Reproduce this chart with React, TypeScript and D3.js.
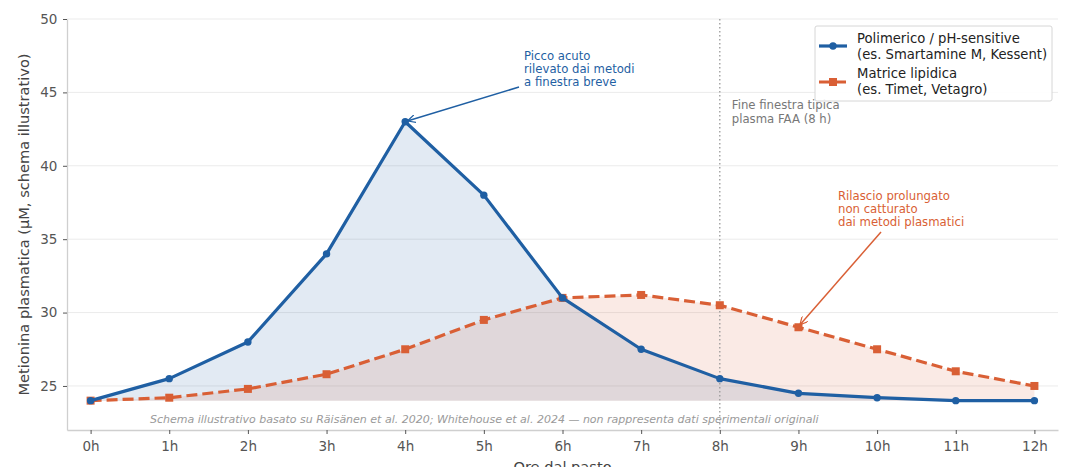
import React, { useEffect, useRef } from "react";
import * as d3 from "d3";

// ore dal pasto
const hours = [0, 1, 2, 3, 4, 5, 6, 7, 8, 9, 10, 11, 12];
const hourLabels = hours.map((h) => `${h}h`);
// Polimerico / pH-sensitive
const polymeric = [24, 25.5, 28, 34, 43, 38, 31, 27.5, 25.5, 24.5, 24.2, 24, 24];
// Matrice lipidica
const lipid = [24, 24.2, 24.8, 25.8, 27.5, 29.5, 31, 31.2, 30.5, 29, 27.5, 26, 25];
const yTicks = [25, 30, 35, 40, 45, 50];
const baseline = 24;

const width = 1080;
const height = 467;
const margin = { top: 19, right: 22, bottom: 37, left: 67 };

const blue = "#1f5fa3";
const orange = "#d95f35";
const font = "DejaVu Sans, sans-serif";

export default function App() {
  const svgRef = useRef<SVGSVGElement>(null);

  useEffect(() => {
    const svg = d3.select(svgRef.current);
    svg.selectAll("*").remove();

    const x = d3.scaleLinear().domain([-0.3, 12.3]).range([margin.left, width - margin.right]);
    const y = d3.scaleLinear().domain([22, 50]).range([height - margin.bottom, margin.top]);

    const defs = svg.append("defs");
    const mk = (id: string, c: string) =>
      defs.append("marker")
        .attr("id", id)
        .attr("viewBox", "0 0 10 10")
        .attr("refX", 9).attr("refY", 5)
        .attr("markerWidth", 8).attr("markerHeight", 8)
        .attr("markerUnits", "userSpaceOnUse")
        .attr("orient", "auto")
        .append("path")
        .attr("d", "M0,0 L10,5 L0,10")
        .attr("fill", "none")
        .attr("stroke", c)
        .attr("stroke-width", 1.5);
    mk("arrBlue", blue);
    mk("arrOrange", orange);

    // grid
    svg.append("g").selectAll("line")
      .data(yTicks)
      .join("line")
      .attr("x1", margin.left).attr("x2", width - margin.right)
      .attr("y1", (d) => y(d)).attr("y2", (d) => y(d))
      .attr("stroke", "#ebebeb").attr("stroke-width", 1);

    // fills
    const area = (vals: number[]) =>
      d3.area<number>()
        .x((_, i) => x(hours[i]))
        .y0(y(baseline))
        .y1((d) => y(d))(vals);
    svg.append("path").attr("d", area(polymeric)).attr("fill", blue).attr("fill-opacity", 0.13);
    svg.append("path").attr("d", area(lipid)).attr("fill", orange).attr("fill-opacity", 0.13);

    // vertical line at 8h
    svg.append("line")
      .attr("x1", x(8)).attr("x2", x(8))
      .attr("y1", margin.top).attr("y2", height - margin.bottom)
      .attr("stroke", "#999").attr("stroke-width", 1.3)
      .attr("stroke-dasharray", "1.5,2.5");

    // axes
    const axisColor = "#cfcfcf";
    const xAxis = svg.append("g")
      .attr("transform", `translate(0,${height - margin.bottom})`)
      .call(d3.axisBottom(x).tickValues(hours).tickFormat((_, i) => hourLabels[i]).tickSize(4).tickSizeOuter(0));
    const yAxis = svg.append("g")
      .attr("transform", `translate(${margin.left},0)`)
      .call(d3.axisLeft(y).tickValues(yTicks).tickSize(4).tickSizeOuter(0));
    [xAxis, yAxis].forEach((g) => {
      g.select(".domain").attr("stroke", axisColor).attr("stroke-width", 1.3);
      g.selectAll(".tick line").attr("stroke", "#555");
      g.selectAll(".tick text").attr("fill", "#555").attr("font-size", 13.5).attr("font-family", font);
    });
    xAxis.selectAll(".tick text").attr("dy", "1.05em");
    yAxis.selectAll(".tick text").attr("dx", "-0.2em");

    // lines
    const line = d3.line<number>().x((_, i) => x(hours[i])).y((d) => y(d));
    svg.append("path").attr("d", line(lipid)).attr("fill", "none")
      .attr("stroke", orange).attr("stroke-width", 3.2).attr("stroke-dasharray", "11,5");
    svg.append("g").selectAll("rect").data(lipid).join("rect")
      .attr("x", (_, i) => x(hours[i]) - 4).attr("y", (d) => y(d) - 4)
      .attr("width", 8).attr("height", 8).attr("fill", orange);

    svg.append("path").attr("d", line(polymeric)).attr("fill", "none")
      .attr("stroke", blue).attr("stroke-width", 3.2).attr("stroke-linejoin", "round");
    svg.append("g").selectAll("circle").data(polymeric).join("circle")
      .attr("cx", (_, i) => x(hours[i])).attr("cy", (d) => y(d))
      .attr("r", 3.7).attr("fill", blue);

    // text helper
    const multi = (lines: string[], tx: number, ty: number, color: string, size: number, lh: number) => {
      const t = svg.append("text").attr("font-family", font).attr("font-size", size).attr("fill", color);
      lines.forEach((l, i) => t.append("tspan").attr("x", tx).attr("y", ty + i * lh).text(l));
      return t;
    };

    multi(["Fine finestra tipica", "plasma FAA (8 h)"], x(8) + 12, 109, "#777", 11.7, 13.5);

    // annotations
    multi(["Picco acuto", "rilevato dai metodi", "a finestra breve"], 524, 60, blue, 11.7, 13);
    svg.append("line")
      .attr("x1", 519).attr("y1", 87).attr("x2", x(4) + 3).attr("y2", y(43) - 1)
      .attr("stroke", blue).attr("stroke-width", 1.5).attr("marker-end", "url(#arrBlue)");

    multi(["Rilascio prolungato", "non catturato", "dai metodi plasmatici"], 838, 200, orange, 11.7, 13);
    svg.append("line")
      .attr("x1", 881).attr("y1", 232).attr("x2", x(9) + 2).attr("y2", y(29) - 3)
      .attr("stroke", orange).attr("stroke-width", 1.5).attr("marker-end", "url(#arrOrange)");

    // footnote
    svg.append("text")
      .attr("x", 150).attr("y", 423)
      .attr("font-family", font).attr("font-size", 11).attr("font-style", "italic")
      .attr("fill", "#9a9a9a")
      .text("Schema illustrativo basato su Räisänen et al. 2020; Whitehouse et al. 2024 — non rappresenta dati sperimentali originali");

    // axis labels
    svg.append("text")
      .attr("transform", `translate(29,${(margin.top + height - margin.bottom) / 2}) rotate(-90)`)
      .attr("text-anchor", "middle")
      .attr("font-family", font).attr("font-size", 14.6).attr("fill", "#444")
      .text("Metionina plasmatica (µM, schema illustrativo)");
    svg.append("text")
      .attr("x", (margin.left + width - margin.right) / 2).attr("y", 472)
      .attr("text-anchor", "middle")
      .attr("font-family", font).attr("font-size", 14.6).attr("fill", "#444")
      .text("Ore dal pasto");

    // legend
    const lg = svg.append("g").attr("transform", "translate(815,26)");
    lg.append("rect").attr("width", 237).attr("height", 75).attr("rx", 2)
      .attr("fill", "white").attr("fill-opacity", 0.9).attr("stroke", "#d6d6d6");
    lg.append("line").attr("x1", 4).attr("x2", 32).attr("y1", 20).attr("y2", 20)
      .attr("stroke", blue).attr("stroke-width", 3.2);
    lg.append("circle").attr("cx", 18).attr("cy", 20).attr("r", 3.7).attr("fill", blue);
    lg.append("line").attr("x1", 4).attr("x2", 32).attr("y1", 56).attr("y2", 56)
      .attr("stroke", orange).attr("stroke-width", 3.2).attr("stroke-dasharray", "11,5");
    lg.append("rect").attr("x", 14).attr("y", 52).attr("width", 8).attr("height", 8).attr("fill", orange);
    const lt = (lines: string[], ty: number) => {
      const t = lg.append("text").attr("font-family", font).attr("font-size", 13.2).attr("fill", "#222");
      lines.forEach((l, i) => t.append("tspan").attr("x", 42).attr("y", ty + i * 15.5).text(l));
    };
    lt(["Polimerico / pH-sensitive", "(es. Smartamine M, Kessent)"], 17);
    lt(["Matrice lipidica", "(es. Timet, Vetagro)"], 52);
  }, []);

  return (
    <svg
      ref={svgRef}
      width={width}
      height={height}
      style={{ position: "absolute", left: 0, top: 0, background: "white" }}
    />
  );
}
